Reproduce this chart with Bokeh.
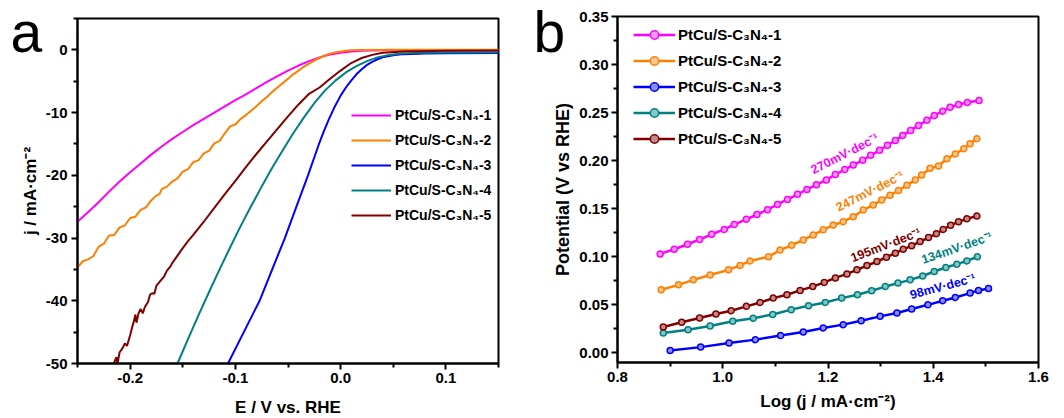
from bokeh.plotting import figure
from bokeh.models import ColumnDataSource, FixedTicker, PrintfTickFormatter, Label, GridBox
from bokeh.layouts import row
from bokeh.embed import file_html
from bokeh.resources import INLINE
from bokeh.core.properties import value

FONT = "Liberation Sans"

names = ["PtCu/S-C₃N₄-1", "PtCu/S-C₃N₄-2", "PtCu/S-C₃N₄-3", "PtCu/S-C₃N₄-4", "PtCu/S-C₃N₄-5"]
colors = ["#FF00FF", "#FF8000", "#0000FF", "#008080", "#800000"]
tints = ["#FF9CFF", "#FFC590", "#8C8CFF", "#86C6C6", "#C48A8A"]

# ---------------- panel a : LSV ----------------
E1 = [-0.25, -0.24, -0.23, -0.22, -0.21, -0.20, -0.19, -0.18, -0.17, -0.16, -0.15, -0.14, -0.13, -0.12,
      -0.11, -0.10, -0.09, -0.08, -0.07, -0.06, -0.05, -0.04, -0.03, -0.02, -0.01, 0.00, 0.01, 0.02,
      0.04, 0.15]
j1 = [-27.4, -25.9, -24.3, -22.6, -21.0, -19.5, -18.1, -16.7, -15.4, -14.2, -13.1, -12.0, -11.0, -10.0,
      -9.0, -8.0, -7.1, -6.1, -5.1, -4.2, -3.3, -2.5, -1.8, -1.2, -0.75, -0.45, -0.25, -0.15,
      -0.08, -0.05]

E2 = [-0.250, -0.245, -0.240, -0.235, -0.230, -0.225, -0.220, -0.215, -0.210, -0.205, -0.200, -0.195,
      -0.190, -0.185, -0.180, -0.175, -0.172, -0.170, -0.165, -0.160, -0.155, -0.150, -0.145, -0.140,
      -0.135, -0.130, -0.125, -0.120, -0.115, -0.110, -0.105, -0.100, -0.095, -0.090, -0.085, -0.080,
      -0.075, -0.070, -0.065, -0.060, -0.055, -0.050, -0.045, -0.040, -0.035, -0.030, -0.025, -0.020,
      -0.015, -0.010, -0.005, 0.000, 0.005, 0.010, 0.020, 0.050, 0.150]
j2 = [-34.7, -33.7, -33.4, -32.9, -31.4, -30.9, -29.6, -29.5, -28.3, -28.0, -26.8, -26.6,
      -25.5, -25.1, -24.0, -23.2, -23.0, -22.2, -21.8, -21.0, -20.5, -19.4, -19.0, -17.9,
      -17.6, -16.5, -16.1, -14.9, -14.5, -13.3, -12.2, -11.9, -11.0, -10.4, -9.7, -9.0,
      -8.2, -7.5, -6.7, -6.0, -5.3, -4.6, -3.9, -3.3, -2.7, -2.2, -1.7, -1.3,
      -0.9, -0.6, -0.4, -0.25, -0.15, -0.08, -0.03, 0.0, 0.0]

E3 = [-0.107, -0.092, -0.077, -0.065, -0.053, -0.042, -0.031, -0.021, -0.016, -0.011, -0.006, 0.000,
      0.005, 0.010, 0.015, 0.020, 0.025, 0.030, 0.035, 0.040, 0.050, 0.060, 0.080, 0.100, 0.150]
j3 = [-50.0, -45.0, -40.0, -35.0, -30.0, -25.0, -20.0, -15.2, -13.0, -11.0, -9.2, -7.3,
      -6.0, -4.9, -3.9, -3.1, -2.4, -1.9, -1.5, -1.2, -0.85, -0.68, -0.56, -0.52, -0.5]

E4 = [-0.155, -0.145, -0.135, -0.125, -0.115, -0.105, -0.095, -0.085, -0.075, -0.065, -0.055, -0.045,
      -0.035, -0.025, -0.015, -0.005, 0.005, 0.015, 0.025, 0.035, 0.045, 0.055, 0.070, 0.100, 0.150]
j4 = [-50.0, -46.1, -42.3, -38.6, -35.0, -31.5, -28.1, -24.9, -21.8, -18.8, -16.0, -13.3,
      -10.8, -8.5, -6.5, -4.9, -3.6, -2.6, -1.8, -1.2, -0.85, -0.62, -0.48, -0.42, -0.4]

E5 = [-0.2155, -0.213, -0.212, -0.210, -0.207, -0.205, -0.203, -0.200, -0.198, -0.196, -0.195, -0.194,
      -0.192, -0.190, -0.188, -0.186, -0.183, -0.181, -0.179, -0.177, -0.175, -0.172, -0.168, -0.165,
      -0.162, -0.160, -0.155, -0.150, -0.145, -0.140, -0.130, -0.120, -0.110, -0.100, -0.090, -0.080,
      -0.070, -0.060, -0.050, -0.040, -0.030, -0.020, -0.010, 0.000, 0.010, 0.020, 0.030, 0.040,
      0.060, 0.100, 0.150]
j5 = [-50.0, -49.0, -50.0, -48.2, -47.5, -46.8, -47.2, -45.5, -44.2, -43.0, -42.2, -43.5,
      -42.0, -41.3, -42.0, -41.0, -40.2, -39.0, -38.8, -38.9, -37.6, -37.0, -36.2, -35.2,
      -34.6, -34.0, -32.8, -31.6, -30.5, -29.5, -27.4, -25.2, -23.0, -20.9, -18.7, -16.6,
      -14.6, -12.6, -10.6, -8.7, -7.0, -6.0, -4.6, -3.3, -2.1, -1.3, -0.8, -0.45,
      -0.25, -0.15, -0.1]

lsv_E = [E1, E2, E3, E4, E5]
lsv_j = [j1, j2, j3, j4, j5]

a_xticks = [-0.2, -0.1, 0.0, 0.1]
a_xminor = [-0.25, -0.15, -0.05, 0.05, 0.15]
a_yticks = [-50, -40, -30, -20, -10, 0]
a_yminor = [-45, -35, -25, -15, -5, 5]

# ---------------- panel b : Tafel ----------------
t1_x = [0.881, 0.908, 0.933, 0.956, 0.979, 1.003, 1.022, 1.045, 1.065, 1.085, 1.104, 1.123, 1.142,
        1.160, 1.178, 1.197, 1.214, 1.232, 1.248, 1.266, 1.281, 1.298, 1.313, 1.328, 1.342, 1.357,
        1.372, 1.388, 1.402, 1.418, 1.432, 1.448, 1.465, 1.487]
t1_y = [0.103, 0.1078, 0.113, 0.118, 0.1234, 0.1285, 0.1337, 0.139, 0.144, 0.149, 0.1545, 0.1596,
        0.165, 0.170, 0.175, 0.180, 0.1856, 0.1907, 0.1956, 0.2004, 0.2056, 0.2108, 0.216, 0.221,
        0.2263, 0.2315, 0.2367, 0.242, 0.247, 0.2515, 0.2555, 0.2585, 0.2605, 0.2626]
t2_x = [0.883, 0.916, 0.944, 0.976, 1.011, 1.033, 1.052, 1.087, 1.109, 1.131, 1.153, 1.172, 1.191,
        1.210, 1.229, 1.248, 1.267, 1.286, 1.302, 1.318, 1.334, 1.350, 1.366, 1.378, 1.394, 1.410,
        1.426, 1.442, 1.458, 1.470, 1.483]
t2_y = [0.0657, 0.0708, 0.076, 0.081, 0.0864, 0.091, 0.0957, 0.100, 0.107, 0.112, 0.1175, 0.1227,
        0.128, 0.133, 0.1365, 0.1417, 0.1486, 0.154, 0.159, 0.164, 0.169, 0.1745, 0.180, 0.185,
        0.192, 0.1945, 0.202, 0.207, 0.2125, 0.2177, 0.2229]
t3_x = [0.900, 0.958, 1.012, 1.062, 1.110, 1.153, 1.191, 1.229, 1.263, 1.299, 1.331, 1.359, 1.390,
        1.418, 1.442, 1.470, 1.486, 1.505]
t3_y = [0.0024, 0.006, 0.0104, 0.0138, 0.018, 0.0218, 0.026, 0.0294, 0.0335, 0.038, 0.0415, 0.0456,
        0.050, 0.0543, 0.0577, 0.0622, 0.065, 0.067]
t4_x = [0.887, 0.934, 0.976, 1.019, 1.058, 1.095, 1.130, 1.163, 1.195, 1.226, 1.256, 1.283, 1.309,
        1.333, 1.356, 1.380, 1.402, 1.424, 1.445, 1.464, 1.484]
t4_y = [0.0207, 0.024, 0.028, 0.033, 0.036, 0.040, 0.045, 0.049, 0.0525, 0.057, 0.0605, 0.0646,
        0.069, 0.0726, 0.076, 0.080, 0.0847, 0.0888, 0.0923, 0.0957, 0.100]
t5_x = [0.887, 0.922, 0.956, 0.987, 1.016, 1.045, 1.071, 1.096, 1.122, 1.147, 1.171, 1.193, 1.214,
        1.236, 1.255, 1.274, 1.293, 1.311, 1.328, 1.343, 1.359, 1.375, 1.391, 1.406, 1.419, 1.433,
        1.448, 1.464, 1.483]
t5_y = [0.027, 0.0318, 0.0363, 0.0404, 0.0439, 0.0484, 0.0525, 0.057, 0.0605, 0.065, 0.069, 0.0733,
        0.078, 0.0822, 0.0864, 0.0909, 0.095, 0.0995, 0.1037, 0.1078, 0.1116, 0.1158, 0.120, 0.124,
        0.1285, 0.1327, 0.1365, 0.1395, 0.1424]
taf_x = [t1_x, t2_x, t3_x, t4_x, t5_x]
taf_y = [t1_y, t2_y, t3_y, t4_y, t5_y]

slope_text = ["270mV·dec⁻¹", "247mV·dec⁻¹", "98mV·dec⁻¹", "134mV·dec⁻¹", "195mV·dec⁻¹"]
slope_x = [1.232, 1.280, 1.418, 1.445, 1.310]
slope_y = [0.207, 0.168, 0.069, 0.109, 0.112]
slope_angle = [27, 27, 15, 19, 21]

b_xticks = [0.8, 1.0, 1.2, 1.4, 1.6]
b_xminor = [0.9, 1.1, 1.3, 1.5]
b_yticks = [0.0, 0.05, 0.10, 0.15, 0.20, 0.25, 0.30, 0.35]
b_yminor = [0.025, 0.075, 0.125, 0.175, 0.225, 0.275, 0.325]


def style(p, xt, xm, yt, ym, xfmt, yfmt):
    p.xaxis.ticker = FixedTicker(ticks=xt, minor_ticks=xm)
    p.yaxis.ticker = FixedTicker(ticks=yt, minor_ticks=ym)
    p.xaxis.formatter = PrintfTickFormatter(format=xfmt)
    p.yaxis.formatter = PrintfTickFormatter(format=yfmt)
    p.grid.visible = False
    p.outline_line_color = "black"
    p.outline_line_width = 2
    p.outline_line_alpha = 1
    p.background_fill_color = "white"
    p.border_fill_color = "white"
    for ax in (p.xaxis[0], p.yaxis[0]):
        ax.axis_line_width = 2
        ax.axis_line_color = "black"
        ax.major_tick_line_width = 2
        ax.minor_tick_line_width = 2
        ax.major_tick_line_color = "black"
        ax.minor_tick_line_color = "black"
        ax.major_tick_in = 0
        ax.major_tick_out = 6
        ax.minor_tick_in = 0
        ax.minor_tick_out = 4
        ax.major_label_text_font = FONT
        ax.major_label_text_font_style = "bold"
        ax.major_label_text_font_size = "15px"
        ax.major_label_text_color = "black"
        ax.major_label_standoff = 3
        ax.axis_label_text_font = FONT
        ax.axis_label_text_font_style = "bold"
        ax.axis_label_text_color = "black"
        ax.axis_label_text_font_size = "17px"


def style_legend(lg, loc, gw, gh, standoff, size):
    lg.location = loc
    lg.margin = 0
    lg.padding = 5
    lg.spacing = 5
    lg.glyph_width = gw
    lg.glyph_height = gh
    lg.label_height = gh
    lg.label_standoff = standoff
    lg.background_fill_alpha = 0
    lg.border_line_alpha = 0
    lg.label_text_font = FONT
    lg.label_text_font_style = "bold"
    lg.label_text_font_size = size
    lg.label_text_color = "black"


# ---- figure a
pa = figure(width=533, height=418, x_range=(-0.25, 0.15), y_range=(-50, 5), title=None,
            output_backend="svg", toolbar_location=None,
            min_border_left=77, min_border_right=35, min_border_top=18, min_border_bottom=55)
style(pa, a_xticks, a_xminor, a_yticks, a_yminor, "%.1f", "%d")
pa.yaxis.axis_label = "j / mA·cm⁻²"
pa.yaxis.axis_label_standoff = 3
pa.yaxis.major_label_standoff = 4

for E, j, c, n in zip(lsv_E, lsv_j, colors, names):
    pa.line(E, j, line_color=c, line_width=2, legend_label=n)
style_legend(pa.legend[0], (269, 133), 40, 20, 4, "14px")

# ---- figure b
pb = figure(width=530, height=418, x_range=(0.8, 1.6), y_range=(-0.01, 0.35), title=None,
            output_backend="svg", toolbar_location=None,
            min_border_left=84, min_border_right=25, min_border_top=16, min_border_bottom=56)
style(pb, b_xticks, b_xminor, b_yticks, b_yminor, "%.1f", "%.2f")
pb.yaxis.axis_label = "Potential (V vs RHE)"
pb.yaxis.axis_label_text_font_size = "18px"
pb.yaxis.axis_label_standoff = 3

for x, y, c, t, n in zip(taf_x, taf_y, colors, tints, names):
    pb.line(x, y, line_color=c, line_width=2.5, legend_label=n)
    pb.scatter(x, y, marker="circle", size=6, fill_color=t, line_color=c, line_width=1.5,
               legend_label=n)

src = ColumnDataSource(dict(x=slope_x, y=slope_y, text=slope_text, angle=slope_angle,
                            color=[colors[0], colors[1], colors[2], colors[3], colors[4]]))
pb.text(x="x", y="y", text="text", angle="angle", angle_units="deg", source=src,
        text_color="color", text_font=value(FONT), text_font_style="bold",
        text_font_size=value("12.5px"), text_align="center", text_baseline="middle")
style_legend(pb.legend[0], (11, 208), 42, 21, 3, "15px")

# ---- transparent overlay carrying panel letters and x-axis titles (page pixel coordinates)
ov = figure(width=1063, height=418, x_range=(0, 1063), y_range=(418, 0), title=None,
            output_backend="svg", toolbar_location=None,
            min_border=0, min_border_left=0, min_border_right=0, min_border_top=0,
            min_border_bottom=0, x_axis_type=None, y_axis_type=None)
ov.outline_line_color = None
ov.background_fill_color = None
ov.border_fill_color = None


def lab(x, y, text, size, style="normal", align="left"):
    ov.add_layout(Label(x=x, y=y, text=text, text_font=FONT, text_font_size=size,
                        text_font_style=style, text_align=align, text_baseline="middle",
                        text_color="black"))


lab(10, 31, "a", "57px")
lab(533, 31, "b", "57px")
lab(287.5, 407, "E / V vs. RHE", "17px", "bold", "center")
lab(827.5, 401, "Log (j / mA·cm⁻²)", "17px", "bold", "center")

if "frame_align" in ov.properties():
    for p in (pa, pb, ov):
        p.frame_align = False
    layout = GridBox(children=[(pa, 0, 0), (pb, 0, 1), (ov, 0, 0, 1, 2)], spacing=0)
else:
    layout = GridBox(children=[(row(pa, pb), 0, 0), (ov, 0, 0)], spacing=0)
open("out.html", "w").write(file_html(layout, INLINE))
